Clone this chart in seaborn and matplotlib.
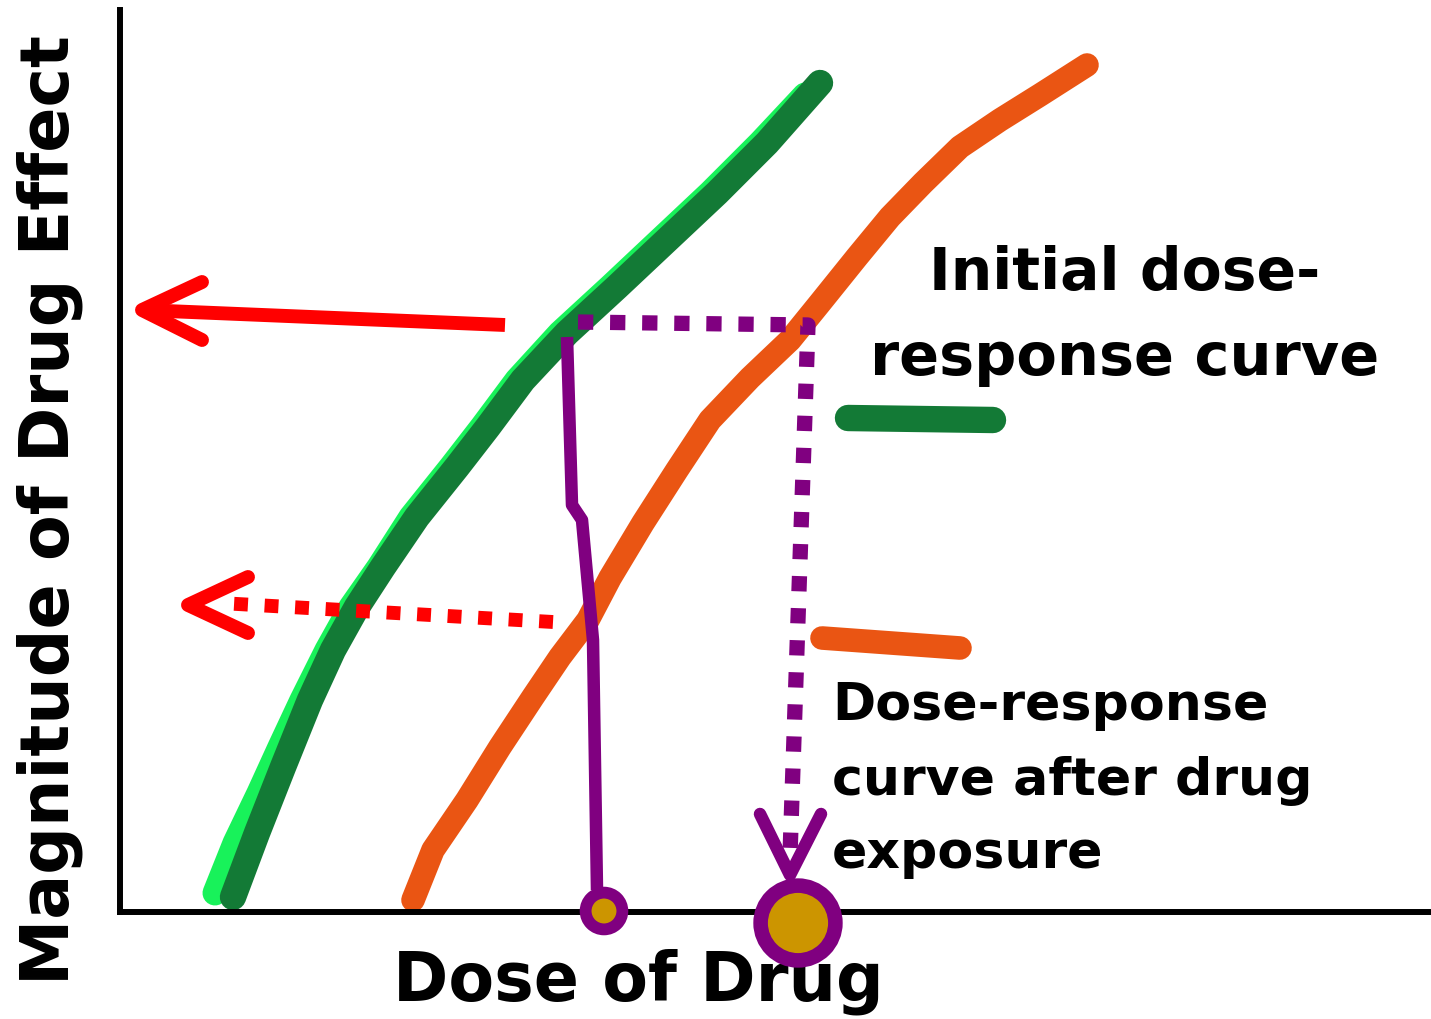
"""
Dose-response shift diagram (tolerance), redrawn with seaborn/matplotlib
"""
import numpy as np
import pandas as pd
import matplotlib.pyplot as plt
import seaborn as sns

sns.set_style('white')
plt.rcParams['font.family'] = ['DejaVu Sans']
plt.rcParams['text.color'] = 'black'
plt.rcParams['axes.labelcolor'] = 'black'

# Curves (dose units, effect units)
initial_dose = [113, 137, 163, 190, 213, 237, 263, 297, 337, 368, 403, 447, 497, 547, 597, 647, 700]
initial_effect = [15, 79, 145, 212, 262, 305, 345, 395, 445, 485, 532, 579, 625, 672, 719, 769, 829]

highlight_dose = [95, 115, 139, 160, 182, 207, 231, 259, 291, 331, 362, 397, 440, 490, 540, 590, 640, 685]
highlight_effect = [19, 69, 119, 165, 212, 262, 305, 345, 395, 445, 485, 532, 579, 625, 672, 719, 769, 817]

shifted_dose = [293, 313, 347, 380, 413, 440, 468, 490, 523, 557, 590, 630, 670,
                700, 737, 770, 803, 840, 880, 920, 967]
shifted_effect = [12, 62, 112, 165, 215, 255, 292, 334, 389, 442, 492, 534, 572,
                  609, 655, 695, 729, 765, 792, 817, 847]

# Annotation strokes
red_arrow_x = [385, 22]
red_arrow_y = [587, 602]
red_head_x = [82, 22, 82]
red_head_y = [630, 602, 572]
red_dash_x = [433, 100]
red_dash_y = [290, 309]
red_dash_head_x = [128, 68, 128]
red_dash_head_y = [335, 307, 279]

purple_line_x = [447, 452, 462, 473, 477]
purple_line_y = [575, 407, 392, 272, 22]
purple_dot_x = [458, 688, 670]
purple_dot_y = [590, 587, 57]
purple_head_x = [640, 670, 701]
purple_head_y = [98, 37, 98]

dose_marks_x = [484, 678]
dose_marks_y = [1, -11]
dose_marks_size = [700, 2900]
dose_marks_edge = [8.5, 10.5]

legend_green_x = [728, 873]
legend_green_y = [494, 492]
legend_orange_x = [702, 840]
legend_orange_y = [274, 264]

DARK_GREEN = '#137a36'
LIGHT_GREEN = '#18f25a'
ORANGE = '#ea5513'
RED = '#ff0000'
PURPLE = '#800080'
GOLD = '#cc9500'

fig = plt.figure(figsize=(14.31, 10.19), dpi=100)
ax = fig.add_axes([120 / 1431, 107 / 1019, 1308 / 1431, 902 / 1019])

curves = pd.DataFrame({'dose': highlight_dose, 'effect': highlight_effect})
sns.lineplot(data=curves, x='dose', y='effect', sort=False, estimator=None,
             color=LIGHT_GREEN, linewidth=18, solid_capstyle='round',
             solid_joinstyle='round', ax=ax)
curves = pd.DataFrame({'dose': initial_dose, 'effect': initial_effect})
sns.lineplot(data=curves, x='dose', y='effect', sort=False, estimator=None,
             color=DARK_GREEN, linewidth=19, solid_capstyle='round',
             solid_joinstyle='round', ax=ax)
curves = pd.DataFrame({'dose': shifted_dose, 'effect': shifted_effect})
sns.lineplot(data=curves, x='dose', y='effect', sort=False, estimator=None,
             color=ORANGE, linewidth=17, solid_capstyle='round',
             solid_joinstyle='round', ax=ax)

# red arrows
ax.plot(red_arrow_x, red_arrow_y, color=RED, lw=10, solid_capstyle='butt')
ax.plot(red_head_x, red_head_y, color=RED, lw=10, solid_capstyle='round', solid_joinstyle='round')
ax.plot(red_dash_x, red_dash_y, color=RED, lw=10, linestyle=(0, (1, 1.2)))
ax.plot(red_dash_head_x, red_dash_head_y, color=RED, lw=10, solid_capstyle='round', solid_joinstyle='round')

# purple markers
ax.plot(purple_line_x, purple_line_y, color=PURPLE, lw=9, solid_capstyle='butt')
ax.plot(purple_dot_x, purple_dot_y, color=PURPLE, lw=11, linestyle=(0, (1, 1.1)))
ax.plot(purple_head_x, purple_head_y, color=PURPLE, lw=9, solid_capstyle='round', solid_joinstyle='round')
ax.scatter(dose_marks_x, dose_marks_y, s=dose_marks_size, c=GOLD, edgecolors=PURPLE,
           linewidths=dose_marks_edge, zorder=5, clip_on=False)

# legend strokes
ax.plot(legend_green_x, legend_green_y, color=DARK_GREEN, lw=19, solid_capstyle='round')
ax.plot(legend_orange_x, legend_orange_y, color=ORANGE, lw=17, solid_capstyle='round')

ax.text(1005, 622, 'Initial dose-', fontsize=42, fontweight='bold', ha='center', va='baseline')
ax.text(1005, 537, 'response curve', fontsize=42.5, fontweight='bold', ha='center', va='baseline')
ax.text(712, 192, 'Dose-response', fontsize=37.5, fontweight='bold', ha='left', va='baseline')
ax.text(712, 117, 'curve after drug', fontsize=37.5, fontweight='bold', ha='left', va='baseline')
ax.text(712, 44, 'exposure', fontsize=37.5, fontweight='bold', ha='left', va='baseline')

ax.set_xlim(0, 1308)
ax.set_ylim(0, 902)
ax.set_xticks([])
ax.set_yticks([])
for side in ['top', 'right']:
    ax.spines[side].set_visible(False)
for side in ['left', 'bottom']:
    ax.spines[side].set_linewidth(4.3)
    ax.spines[side].set_color('black')

ax.set_xlabel('Dose of Drug', fontsize=48, fontweight='bold', va='baseline')
ax.xaxis.set_label_coords(0.396, -0.0976)
ax.set_ylabel('Magnitude of Drug Effect', fontsize=48, fontweight='bold', va='center')
ax.yaxis.set_label_coords(-0.0535, 0.446)

fig.savefig('out.png', dpi=100)
